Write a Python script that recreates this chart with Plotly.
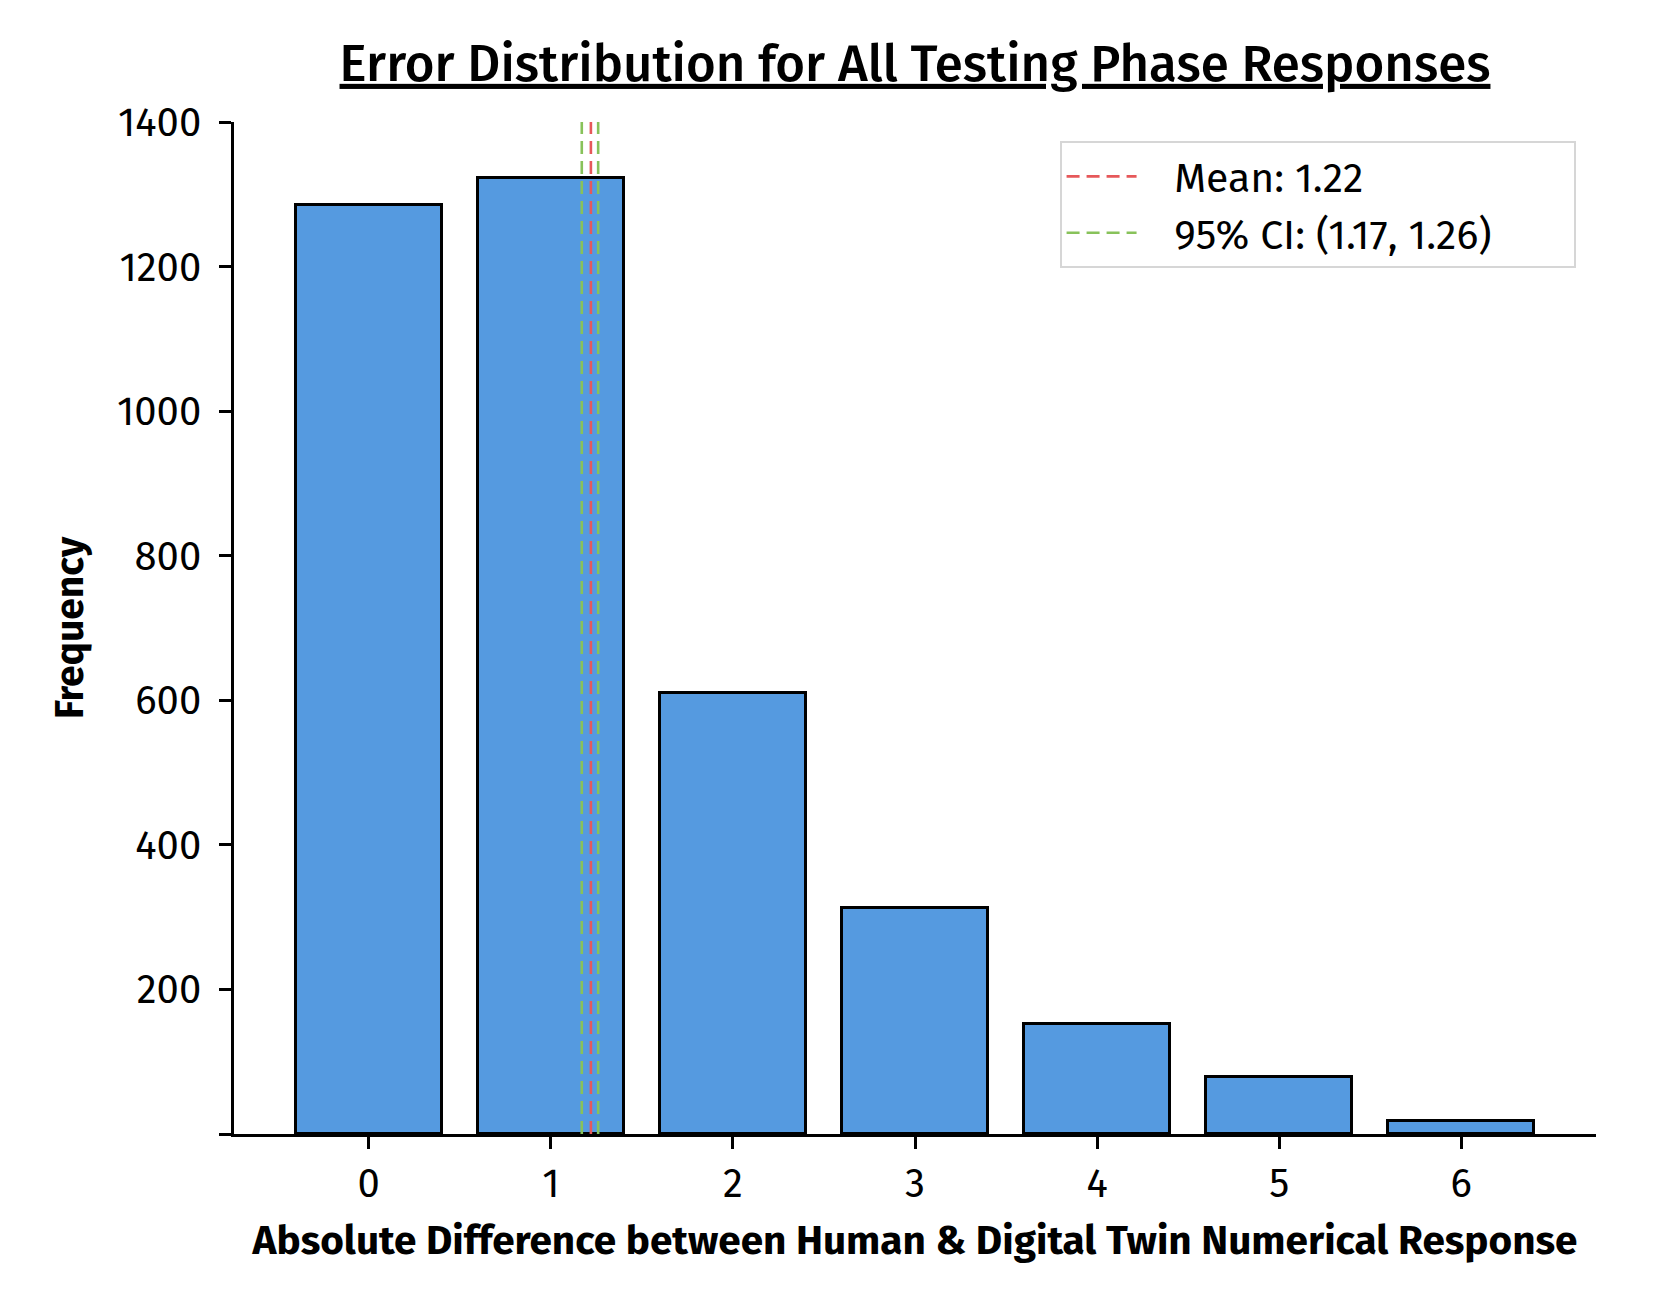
import plotly.graph_objects as go

# Data
error_values = [0, 1, 2, 3, 4, 5, 6]
frequencies = [1285, 1323, 610, 312, 152, 79, 18]
mean_value = 1.22
ci_low, ci_high = 1.17, 1.26
y_ticks = [0, 200, 400, 600, 800, 1000, 1200, 1400]
y_tick_labels = ["", "200", "400", "600", "800", "1000", "1200", "1400"]
y_max = 1400

FONT = "Fira Sans, Roboto, sans-serif"
PAD_L = "\u00a0" * 3
PAD_R = "\u00a0" * 7

fig = go.Figure()
fig.add_trace(go.Bar(
    x=error_values, y=frequencies, width=0.8,
    marker=dict(color="#559ae0", line=dict(color="black", width=3)),
    showlegend=False,
))
fig.add_trace(go.Scatter(
    x=[mean_value, mean_value], y=[0, y_max], mode="lines",
    line=dict(color="#e6585a", width=2.6, dash="13px,7px"),
    name=PAD_L + "Mean: %.2f" % mean_value + PAD_R,
))
fig.add_trace(go.Scatter(
    x=[ci_low, ci_low, None, ci_high, ci_high], y=[0, y_max, None, 0, y_max],
    mode="lines",
    line=dict(color="#88c25a", width=2.6, dash="13px,7px"),
    name=PAD_L + "95%% CI: (%.2f, %.2f)" % (ci_low, ci_high) + PAD_R,
))

fig.update_layout(
    width=1659, height=1316,
    margin=dict(l=226, r=71, t=114, b=190),
    paper_bgcolor="white", plot_bgcolor="white",
    font=dict(family=FONT, size=40, color="black"),
    title=dict(
        text="<u>Error Distribution for All Testing Phase Responses</u>",
        x=0.5, xref="paper", xanchor="center",
        y=1 - 55 / 1316, yref="container", yanchor="middle",
        font=dict(family=FONT, size=51, color="black", weight=500),
    ),
    bargap=0,
    legend=dict(
        x=0.985, y=0.981, xanchor="right", yanchor="top",
        bordercolor="#d6d6d6", borderwidth=2, bgcolor="white",
        font=dict(family=FONT, size=41), itemwidth=70,
    ),
    xaxis=dict(
        range=[-0.74, 6.74], tickmode="array", tickvals=error_values,
        showline=True, linecolor="black", linewidth=2.5, mirror=False,
        ticks="outside", ticklen=12, tickwidth=2.5, tickcolor="black",
        ticklabelstandoff=0,
        showgrid=False, zeroline=False,
        title=dict(text="<b>Absolute Difference between Human & Digital Twin Numerical Response</b>",
                   font=dict(family=FONT, size=40.5), standoff=19),
    ),
    yaxis=dict(
        range=[0, y_max], tickmode="array", tickvals=y_ticks, ticktext=y_tick_labels,
        showline=True, linecolor="black", linewidth=2.5,
        ticks="outside", ticklen=12, tickwidth=2.5, tickcolor="black",
        ticklabelstandoff=10,
        showgrid=False, zeroline=False,
        title=dict(text="<b>Frequency</b>", font=dict(family=FONT, size=39), standoff=22),
    ),
)

fig.write_html("out.html")
